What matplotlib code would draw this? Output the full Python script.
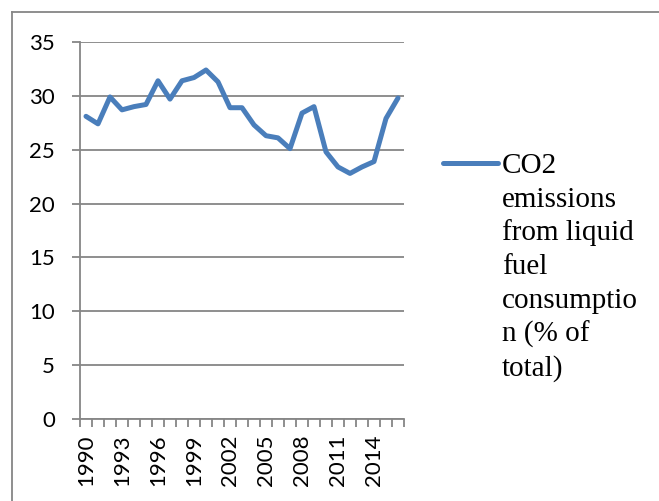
import matplotlib
matplotlib.use("Agg")
import matplotlib.pyplot as plt
from matplotlib.lines import Line2D
from matplotlib import font_manager

# CO2 emissions from liquid fuel consumption (% of total), 1990-2016
years = list(range(1990, 2017))
co2_liquid = [28.1, 27.4, 29.9, 28.7, 29.0, 29.2, 31.4, 29.7, 31.4, 31.7,
              32.4, 31.3, 28.9, 28.9, 27.3, 26.3, 26.1, 25.1, 28.4, 29.0,
              24.8, 23.4, 22.8, 23.4, 23.9, 27.9, 29.8]
y_ticks = [0, 5, 10, 15, 20, 25, 30, 35]
legend_lines = ["CO2", "emissions", "from liquid", "fuel",
                "consumptio", "n (% of", "total)"]

W, H = 659, 501
LINE_COLOR = "#4A7EBB"
GRID_COLOR = "#868686"

serif_names = {f.name for f in font_manager.fontManager.ttflist}
SERIF = "Liberation Serif" if "Liberation Serif" in serif_names else "DejaVu Serif"
print("serif:", SERIF, sorted(n for n in serif_names if "Serif" in n or "Times" in n))

fig = plt.figure(figsize=(W / 100, H / 100), dpi=100)
fig.patch.set_facecolor("white")

# plot area in pixel coordinates
left, right, top, bottom = 80, 404, 42, 419
ax = fig.add_axes([left / W, (H - bottom) / H, (right - left) / W, (bottom - top) / H])

idx = list(range(len(years)))
ax.plot(idx, co2_liquid, color=LINE_COLOR, lw=3.6, solid_joinstyle="round",
        solid_capstyle="round", zorder=3, clip_on=False)

ax.set_xlim(-0.5, len(years) - 0.5)
ax.set_ylim(0, 35)
ax.set_yticks(y_ticks)
ax.set_yticklabels([str(v) for v in y_ticks])
ax.yaxis.grid(True, color=GRID_COLOR, lw=1.3)
ax.set_axisbelow(True)

# category labels every third year, tick marks between categories
ax.set_xticks(idx[::3])
ax.set_xticklabels([str(y) for y in years[::3]], rotation=90)
ax.set_xticks([i - 0.5 for i in range(len(years) + 1)], minor=True)
ax.tick_params(axis="x", which="major", length=0, pad=11)
ax.tick_params(axis="x", which="minor", length=6, width=1.3, color=GRID_COLOR)
ax.tick_params(axis="y", length=6, width=1.3, color=GRID_COLOR, pad=12)

for lab in ax.get_xticklabels() + ax.get_yticklabels():
    lab.set_fontfamily("Lato")
    lab.set_fontsize(16)
    lab.set_color("black")

for side in ("top", "right"):
    ax.spines[side].set_visible(False)
for side in ("left", "bottom"):
    ax.spines[side].set_color(GRID_COLOR)
    ax.spines[side].set_linewidth(1.3)

# legend: line sample and wrapped label
ly = 163
fig.add_artist(Line2D([443 / W, 498 / W], [(H - ly) / H] * 2, color=LINE_COLOR,
                      lw=3.6, solid_capstyle="round"))
base = 173
for i, txt in enumerate(legend_lines):
    fig.text(502 / W, (H - (base + i * 33.7)) / H, txt, fontfamily=SERIF,
             fontsize=21, va="baseline", ha="left", color="black")

# chart frame
fig.add_artist(Line2D([11.5 / W, 11.5 / W], [0, (H - 12) / H], color=GRID_COLOR, lw=1.3))
fig.add_artist(Line2D([11.5 / W, 1.0], [(H - 12) / H] * 2, color=GRID_COLOR, lw=1.3))

fig.savefig("out.png", dpi=100, facecolor="white")
